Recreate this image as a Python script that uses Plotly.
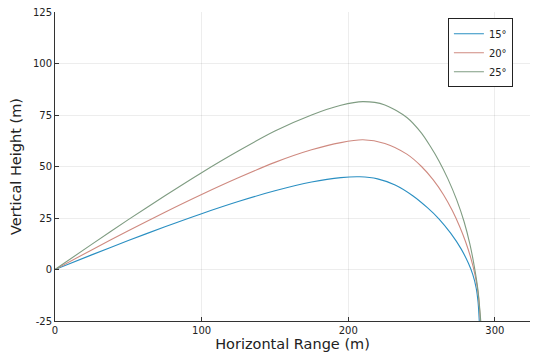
import plotly.graph_objects as go

# Trajectory data
labels = ["15°", "20°", "25°"]

x15 = [0, 25, 50, 75, 100, 125, 150, 175, 195, 208, 220, 232, 244, 254, 262, 270, 277, 282, 285, 287.3, 288.6, 289.4]
y15 = [0, 7.1, 14.05, 20.75, 27.1, 33.0, 38.2, 42.45, 44.6, 45.0, 44.0, 41.0, 35.8, 30.0, 24.5, 17.5, 10.0, 3.0, -2.5, -9.0, -16.0, -25.0]

x20 = [0, 25, 50, 75, 100, 125, 150, 175, 195, 210, 225, 240, 250, 258, 265, 271, 276, 280, 283.5, 286.5, 288.7, 290.2]
y20 = [0, 9.5, 18.8, 27.8, 36.4, 44.5, 52.0, 58.1, 61.6, 62.95, 61.2, 56.0, 50.0, 43.5, 36.3, 28.6, 20.9, 13.6, 5.9, -2.6, -12.0, -25.0]

x25 = [0, 25, 50, 75, 100, 125, 150, 175, 195, 210, 225, 240, 250, 256, 262, 268, 274, 279, 283, 286, 288.5, 290.4]
y25 = [0, 12.2, 24.2, 35.8, 47.0, 57.5, 67.2, 75.0, 79.7, 81.5, 79.9, 73.8, 66.2, 59.8, 52.6, 44.0, 33.8, 23.3, 12.3, 1.5, -10.0, -25.0]

xs = [x15, x20, x25]
ys = [y15, y20, y25]
colors = ["#2a8fc2", "#cf8a80", "#7f9c82"]

xticks = [0, 100, 200, 300]
yticks = [-25, 0, 25, 50, 75, 100, 125]

fig = go.Figure()
for lab, xv, yv, c in zip(labels, xs, ys, colors):
    fig.add_trace(go.Scatter(x=xv, y=yv, mode="lines", name=lab,
                             line=dict(color=c, width=1.1, shape="spline", smoothing=0.8)))

axis_common = dict(
    showline=True, linecolor="#333333", linewidth=1,
    ticks="inside", ticklen=4, tickcolor="#333333",
    showgrid=True, gridcolor="rgba(0,0,0,0.07)", gridwidth=1,
    zeroline=False, mirror=False, automargin=False,
    ticklabeloverflow="allow",
    tickfont=dict(family="DejaVu Sans", size=10, color="#222222"),
)

# The page body adds an 8px offset, so the figure is sized to fit the window
fig.update_layout(
    width=524, height=344,
    margin=dict(l=47, r=2, t=4, b=31),
    paper_bgcolor="white", plot_bgcolor="white",
    font=dict(family="DejaVu Sans", color="#222222"),
    xaxis=dict(range=[0, 324], tickvals=xticks, ticktext=[str(v) for v in xticks],
               title=dict(text="Horizontal Range (m)", font=dict(size=14.5), standoff=6),
               **axis_common),
    yaxis=dict(range=[-25, 125], tickvals=yticks, ticktext=[str(v) for v in yticks],
               title=dict(text="Vertical Height (m)", font=dict(size=14.5), standoff=13),
               **axis_common),
    legend=dict(x=0.964, y=0.98, xanchor="right", yanchor="top",
                bgcolor="white", bordercolor="#222222", borderwidth=1,
                font=dict(family="DejaVu Sans", size=10, color="#222222"),
                tracegroupgap=0, itemwidth=30),
    showlegend=True,
)

fig.write_html("out.html")
